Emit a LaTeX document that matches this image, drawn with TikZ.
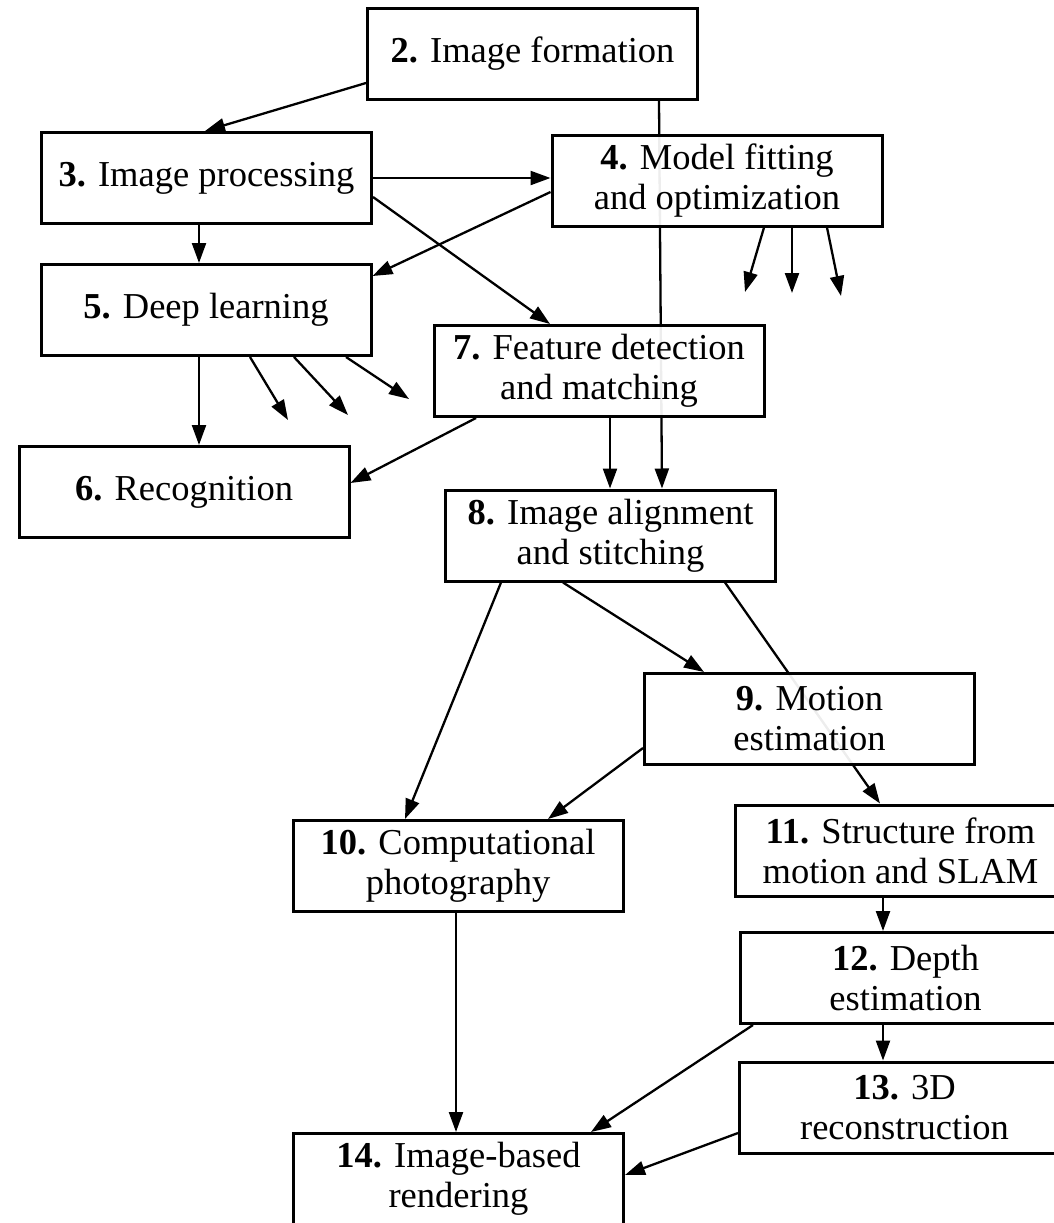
\documentclass[tikz,border=0pt]{standalone}
\usepackage{fontspec}
\setmainfont{Liberation Serif}
\usetikzlibrary{arrows.meta}
\pgfdeclarelayer{bg}
\pgfsetlayers{bg,main}
\begin{document}
\begin{tikzpicture}[x=1pt,y=-1pt,
  box/.style={draw, line width=3pt, fill=white, fill opacity=0.93, draw opacity=1, text opacity=1,
    minimum width=330pt, minimum height=91pt, align=center, inner sep=0pt,
    font=\fontsize{36.5}{40}\selectfont},
  conn/.style={line width=2.3pt, -{Triangle[length=20pt,width=14pt]}}]
\useasboundingbox (0,0) rectangle (1054,1223);
\clip (0,0) rectangle (1054,1223);
\node[box] (n2) at (532.5,54) {\textbf{2.} Image formation};
\node[box] (n3) at (206.5,178) {\textbf{3.} Image processing};
\node[box] (n4) at (717,180.5) {\textbf{4.} Model fitting\\and optimization};
\node[box] (n5) at (206,310) {\textbf{5.} Deep learning};
\node[box] (n7) at (599,371) {\textbf{7.} Feature detection\\and matching};
\node[box] (n6) at (184,492) {\textbf{6.} Recognition};
\node[box] (n8) at (610.5,535.5) {\textbf{8.} Image alignment\\and stitching};
\node[box] (n9) at (809.5,719) {\textbf{9.} Motion\\estimation};
\node[box] (n10) at (458,866) {\textbf{10.} Computational\\photography};
\node[box] (n11) at (900.5,850.5) {\textbf{11.} Structure from\\motion and SLAM};
\node[box] (n12) at (905.5,978) {\textbf{12.} Depth\\estimation};
\node[box] (n13) at (904.5,1107.5) {\textbf{13.} 3D\\reconstruction};
\node[box] (n14) at (458.5,1179) {\textbf{14.} Image-based\\rendering};
\coordinate (d4a) at (745,292);
\coordinate (d4b) at (792,293);
\coordinate (d4c) at (841,296);
\coordinate (d5a) at (288,420);
\coordinate (d5b) at (348,415);
\coordinate (d5c) at (409,399);
\begin{pgfonlayer}{bg}
\draw[conn] ([yshift=-29pt]n2.west) -- ([xshift=-1.5pt]n3.north);
\draw[conn] ([xshift=126.5pt]n2.south) -- ([xshift=51.5pt]n8.north);
\draw[conn] (n3.east) -- (n3.east -| n4.west);
\draw[conn] ([yshift=-19pt]n3.east) -- ([xshift=-49pt]n7.north);
\draw[conn] ([yshift=-11.5pt]n4.west) -- ([yshift=34pt]n5.east);
\draw[conn] ([xshift=-7.5pt]n3.south) -- ([xshift=-7pt]n5.north);
\draw[conn] ([xshift=47pt]n4.south) -- (d4a);
\draw[conn] ([xshift=75pt]n4.south) -- (d4b);
\draw[conn] ([xshift=110pt]n4.south) -- (d4c);
\draw[conn] ([xshift=44pt]n5.south) -- (d5a);
\draw[conn] ([xshift=88pt]n5.south) -- (d5b);
\draw[conn] ([xshift=140pt]n5.south) -- (d5c);
\draw[conn] ([xshift=-7pt]n5.south) -- ([xshift=15pt]n6.north);
\draw[conn] ([xshift=-123pt]n7.south) -- ([yshift=9pt]n6.east);
\draw[conn] ([xshift=11pt]n7.south) -- ([xshift=-0.5pt]n8.north);
\draw[conn] ([xshift=-109.5pt]n8.south) -- ([xshift=-53pt]n10.north);
\draw[conn] ([xshift=-47.5pt]n8.south) -- ([xshift=-105.5pt]n9.north);
\draw[conn] ([xshift=114.5pt]n8.south) -- ([xshift=-20.5pt]n11.north);
\draw[conn] ([yshift=-29pt]n9.west) -- ([xshift=90pt]n10.north);
\draw[conn] ([xshift=-2pt]n10.south) -- ([xshift=-2.5pt]n14.north);
\draw[conn] ([xshift=-17.5pt]n11.south) -- ([xshift=-22.5pt]n12.north);
\draw[conn] ([xshift=-22.5pt]n12.south) -- ([xshift=-21.5pt]n13.north);
\draw[conn] ([xshift=-152.5pt]n12.south) -- ([xshift=132.5pt]n14.north);
\draw[conn] ([yshift=-25.5pt]n13.west) -- ([yshift=4pt]n14.east);
\end{pgfonlayer}
\end{tikzpicture}
\end{document}
